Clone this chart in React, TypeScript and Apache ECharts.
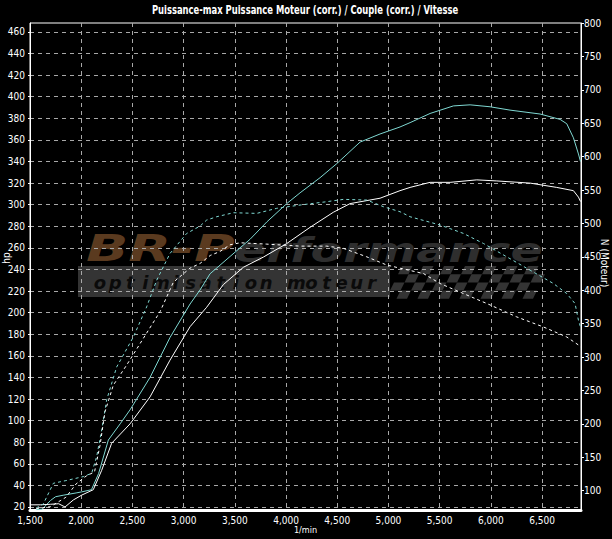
import React, { useEffect, useRef } from "react";
import * as echarts from "echarts";

// ---- data ----
const titleText = "Puissance-max Puissance Moteur (corr.) / Couple (corr.) / Vitesse";
const xName = "1/min";
const leftName = "hp";
const rightName = "N (Moteur)";

const leftTicks = [20, 40, 60, 80, 100, 120, 140, 160, 180, 200, 220, 240, 260, 280, 300, 320, 340, 360, 380, 400, 420, 440, 460];
const rightTicks = [100, 150, 200, 250, 300, 350, 400, 450, 500, 550, 600, 650, 700, 750, 800];

// Power (hp) – cyan solid
const powerCyanRpm = [1560, 1620, 1700, 1750, 1830, 1950, 2005, 2100, 2170, 2265, 2380, 2477, 2672, 2867, 3063, 3160, 3258, 3453, 3649, 3812, 4007, 4137, 4332, 4495, 4723, 4918, 5113, 5211, 5406, 5634, 5797, 5992, 6187, 6480, 6676, 6741, 6806, 6855, 6875];
const powerCyanHp = [17.5, 18, 26, 29.5, 31, 33, 34, 36, 51, 82, 97, 110, 140, 177, 208, 221, 236, 252, 268, 284, 301, 311, 325, 338, 358, 365.5, 372, 376, 384.5, 391.5, 392.5, 390.7, 387.6, 384, 379, 375, 362, 347, 340];

// Power (hp) – white solid
const powerWhiteRpm = [1500, 1600, 1700, 1780, 1842, 1923, 2005, 2118, 2200, 2297, 2477, 2672, 2867, 3063, 3225, 3388, 3583, 3779, 4007, 4234, 4462, 4625, 4918, 5113, 5211, 5406, 5602, 5862, 6058, 6383, 6643, 6806, 6855, 6875];
const powerWhiteHp = [22, 22, 22.5, 23, 20, 26.5, 31, 36, 54, 79, 97, 122, 156, 187, 205, 226, 242, 251.5, 264, 279, 293, 301, 306, 313, 316, 320.7, 320.7, 323, 322, 320, 316, 313, 307, 303];

// Torque (N) – cyan dashed
const torqueCyanRpm = [1560, 1630, 1728, 1850, 2021, 2102, 2151, 2200, 2249, 2346, 2509, 2639, 2737, 2867, 3030, 3160, 3225, 3323, 3486, 3714, 3909, 4137, 4397, 4560, 4788, 4951, 5113, 5211, 5504, 5732, 5927, 6155, 6383, 6611, 6741, 6822, 6855, 6875];
const torqueCyanNm = [74, 80, 111, 115, 121, 126, 151, 191, 236, 285, 330, 375, 415, 455, 485, 496, 505, 510, 516, 515, 522.6, 527.5, 532.5, 536, 535, 525, 517.5, 510, 497.6, 485, 470, 450, 430, 410, 395, 380, 355, 345];

// Torque (N) – white dashed
const torqueWhiteRpm = [1560, 1700, 1850, 1950, 2050, 2130, 2184, 2232, 2314, 2444, 2607, 2770, 2900, 3063, 3160, 3260, 3355, 3453, 3551, 3812, 4137, 4397, 4560, 4788, 4983, 5113, 5341, 5504, 5732, 5992, 6253, 6513, 6741, 6855, 6875];
const torqueWhiteNm = [73, 76, 90, 110, 122, 128, 168, 218, 258, 288, 328, 368, 412, 433, 440, 452, 458, 468, 471, 469, 466, 466, 462.7, 450, 437.7, 433, 425, 410, 395, 378, 360, 345, 330, 318, 315];

const watermarkBrand = ["BR-P", "erformance"];
const watermarkSub = "optimisation moteur";

const zip = (xs: number[], ys: number[]) => xs.map((x, i) => [x, ys[i]]);

const NARROW = '"Liberation Sans Narrow", "DejaVu Sans Condensed", "Arial Narrow", sans-serif';
const LOGO = '"DejaVu Sans", sans-serif';

function buildGraphics() {
  const els: any[] = [];
  // title (drawn as graphic text so it can be condensed horizontally)
  els.push({
    type: "text",
    silent: true,
    x: 305,
    y: 10,
    scaleX: 0.78,
    style: {
      text: titleText,
      fill: "#fff",
      font: `bold 12px ${NARROW}`,
      align: "center",
      verticalAlign: "middle",
    },
  });
  // axis names
  els.push({
    type: "text",
    silent: true,
    x: 6,
    y: 258,
    rotation: Math.PI / 2,
    style: { text: leftName, fill: "#fff", font: `10px ${NARROW}`, align: "center", verticalAlign: "middle" },
  });
  els.push({
    type: "text",
    silent: true,
    x: 604,
    y: 263,
    rotation: -Math.PI / 2,
    style: { text: rightName, fill: "#fff", font: `10px ${NARROW}`, align: "center", verticalAlign: "middle" },
  });
  // grey band
  els.push({
    type: "rect",
    z: -5,
    silent: true,
    shape: { x: 78, y: 266, width: 312, height: 31 },
    style: { fill: "#3a3a3a", opacity: 0.9 },
  });
  // chequered flag
  const cw = 10.5, ch = 8.2, skew = 4;
  for (let r = 0; r < 4; r++) {
    for (let c = 0; c < 14; c++) {
      if ((r + c) % 2 !== 0) continue;
      const x0 = 390 + c * cw + (3 - r) * skew;
      const y0 = 266 + r * ch;
      els.push({
        type: "polygon",
        z: -5,
        silent: true,
        shape: {
          points: [
            [x0, y0],
            [x0 + cw, y0],
            [x0 + cw - skew, y0 + ch],
            [x0 - skew, y0 + ch],
          ],
        },
        style: { fill: "#3a3a3a", opacity: 0.9 },
      });
    }
  }
  // brand text
  els.push({
    type: "text",
    z: -4,
    silent: true,
    x: 86,
    y: 248,
    scaleX: 1.5,
    style: {
      text: watermarkBrand[0],
      fill: "#5a3a1f",
      font: `italic bold 37px ${LOGO}`,
      verticalAlign: "middle",
      align: "left",
    },
  });
  els.push({
    type: "text",
    z: -4,
    silent: true,
    x: 234,
    y: 250,
    scaleX: 1.4,
    style: {
      text: watermarkBrand[1],
      fill: "#2e2e2e",
      font: `italic bold 34px ${LOGO}`,
      verticalAlign: "middle",
      align: "left",
    },
  });
  // sub text, one glyph at a time (wide letter spacing)
  const chars = watermarkSub.split("");
  chars.forEach((chr, i) => {
    if (chr === " ") return;
    els.push({
      type: "text",
      z: -4,
      silent: true,
      x: 100 + i * 15.1,
      y: 282,
      style: {
        text: chr,
        fill: "#0a0a0a",
        font: `italic bold 18px ${LOGO}`,
        align: "center",
        verticalAlign: "middle",
      },
    });
  });
  return els;
}

export default function App() {
  const ref = useRef<HTMLDivElement>(null);

  useEffect(() => {
    document.body.style.margin = "0";
    document.body.style.background = "#000";
    if (!ref.current) return;
    const chart = echarts.init(ref.current, null, { renderer: "svg" });

    const fmt = (v: number) => v.toLocaleString("en-US");

    chart.setOption({
      animation: false,
      backgroundColor: "#000",
      textStyle: { fontFamily: NARROW },
      grid: {
        left: 30,
        right: 31,
        top: 23,
        bottom: 29,
        show: true,
        borderColor: "#fff",
        borderWidth: 1,
        backgroundColor: "transparent",
        containLabel: false,
        outerBoundsMode: "none",
      },
      graphic: buildGraphics(),
      xAxis: {
        type: "value",
        min: 1500,
        max: 6880,
        interval: 500,
        name: xName,
        nameLocation: "middle",
        nameGap: 15,
        nameMoveOverlap: false,
        nameTextStyle: { color: "#fff", fontSize: 9, fontFamily: NARROW },
        axisLine: { show: true, lineStyle: { color: "#fff", width: 3 } },
        axisTick: { show: false },
        axisLabel: {
          color: "#fff",
          fontSize: 10,
          fontFamily: NARROW,
          margin: 5,
          formatter: fmt,
          showMaxLabel: false,
        },
        splitLine: { show: true, lineStyle: { color: "#a8a8a8", type: [4, 4], width: 1 } },
      },
      yAxis: [
        {
          type: "value",
          position: "left",
          min: 17.2,
          max: 468.3,
          axisLine: { show: true, lineStyle: { color: "#fff", width: 1 } },
          axisTick: { show: true, customValues: leftTicks, length: 2, lineStyle: { color: "#fff" } },
          axisLabel: { customValues: leftTicks, color: "#fff", fontSize: 10, fontFamily: NARROW, margin: 5 },
          splitLine: { show: true, lineStyle: { color: "#a8a8a8", type: [4, 4], width: 1 } },
        },
        {
          type: "value",
          position: "right",
          min: 71,
          max: 800,
          axisLine: { show: true, lineStyle: { color: "#fff", width: 1 } },
          axisTick: { show: true, customValues: rightTicks, length: 3, lineStyle: { color: "#fff" } },
          axisLabel: { customValues: rightTicks, color: "#fff", fontSize: 10, fontFamily: NARROW, margin: 3 },
          splitLine: { show: false },
        },
      ],
      series: [
        {
          name: "Puissance cyan",
          type: "line",
          yAxisIndex: 0,
          data: zip(powerCyanRpm, powerCyanHp),
          showSymbol: false,
          symbol: "none",
          lineStyle: { color: "#7fd8d2", width: 1 },
          z: 5,
        },
        {
          name: "Puissance blanc",
          type: "line",
          yAxisIndex: 0,
          data: zip(powerWhiteRpm, powerWhiteHp),
          showSymbol: false,
          symbol: "none",
          lineStyle: { color: "#ffffff", width: 1 },
          z: 5,
        },
        {
          name: "Couple cyan",
          type: "line",
          yAxisIndex: 1,
          data: zip(torqueCyanRpm, torqueCyanNm),
          showSymbol: false,
          symbol: "none",
          lineStyle: { color: "#7fd8d2", width: 1, type: [3, 3] },
          z: 5,
        },
        {
          name: "Couple blanc",
          type: "line",
          yAxisIndex: 1,
          data: zip(torqueWhiteRpm, torqueWhiteNm),
          showSymbol: false,
          symbol: "none",
          lineStyle: { color: "#ffffff", width: 1, type: [3, 3] },
          z: 5,
        },
      ],
    });

    return () => chart.dispose();
  }, []);

  return (
    <div
      ref={ref}
      style={{ position: "absolute", left: 0, top: 0, width: 612, height: 539, background: "#000" }}
    />
  );
}
